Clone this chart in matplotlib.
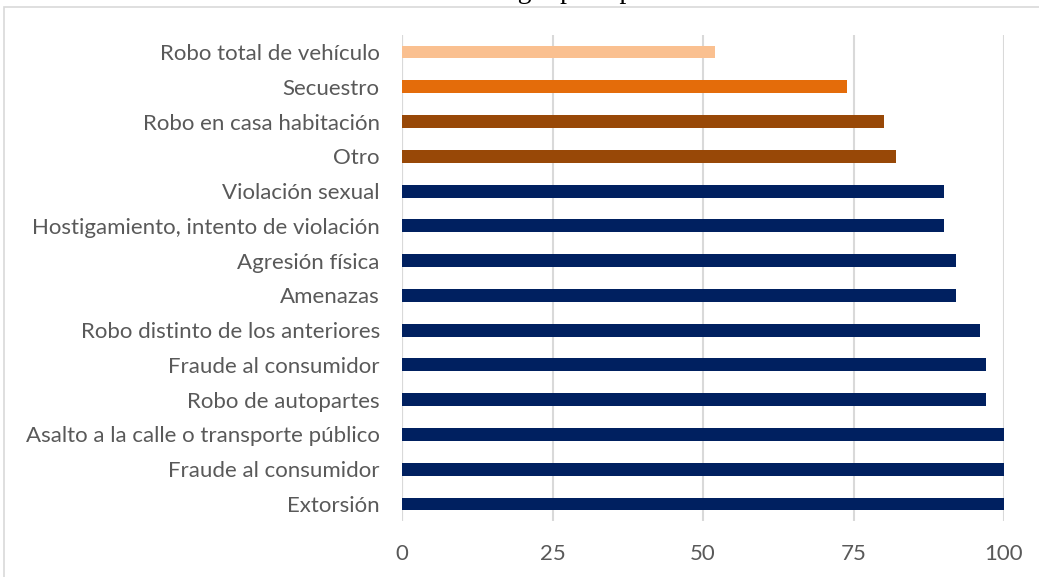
import matplotlib; matplotlib.use("Agg")
import matplotlib.pyplot as plt
from matplotlib.patches import Rectangle

# categories bottom -> top as drawn
delitos = ["Extorsión", "Fraude al consumidor", "Asalto a la calle o transporte público",
           "Robo de autopartes", "Fraude al consumidor", "Robo distinto de los anteriores",
           "Amenazas", "Agresión física", "Hostigamiento, intento de violación",
           "Violación sexual", "Otro", "Robo en casa habitación", "Secuestro",
           "Robo total de vehículo"]
cifra_negra = [100, 100, 100, 97, 97, 96, 92, 92, 90, 90, 82, 80, 74, 52]
colores = ["#002060"] * 10 + ["#984807", "#984807", "#E46C0A", "#FAC090"]
xticks = [0, 25, 50, 75, 100]
titulo = "Gráfica 8. Cifra negra por tipo de delito"

W, H = 1039, 577
fig = plt.figure(figsize=(W / 100, H / 100), dpi=100)
ax = fig.add_axes([402 / W, 1 - 521.4 / H, 602 / W, (521.4 - 34.6) / H])

ax.barh(range(len(delitos)), cifra_negra, height=0.37, color=colores, zorder=3)
ax.set_xlim(0, 100)
ax.set_ylim(-0.5, len(delitos) - 0.5)
ax.set_xticks(xticks)
ax.set_yticks(range(len(delitos)))
ax.set_yticklabels(delitos)
ax.grid(axis="x", color="#d9d9d9", lw=1.5, zorder=0)
for s in ax.spines.values():
    s.set_visible(False)
ax.axvline(0, color="#d9d9d9", lw=1.5, zorder=1)
ax.tick_params(axis="y", length=0, pad=16, labelsize=16, labelcolor="#595959")
ax.tick_params(axis="x", length=0, pad=16, labelsize=16, labelcolor="#595959")
for t in ax.get_xticklabels() + ax.get_yticklabels():
    t.set_family(["Lato", "DejaVu Sans"])

# outer chart border (partially outside the image)
fig.patches.append(Rectangle((4 / W, -0.05), 1.2, 1 - 7 / H + 0.05, transform=fig.transFigure,
                             fill=False, edgecolor="#d9d9d9", lw=1.2))
# title, mostly cut off at the top as in the source
fig.text(530 / W, 1 + 2 / H, titulo, ha="center", va="baseline",
         family=["Liberation Serif"], fontsize=20, color="black")

fig.savefig("out.png", dpi=100)
